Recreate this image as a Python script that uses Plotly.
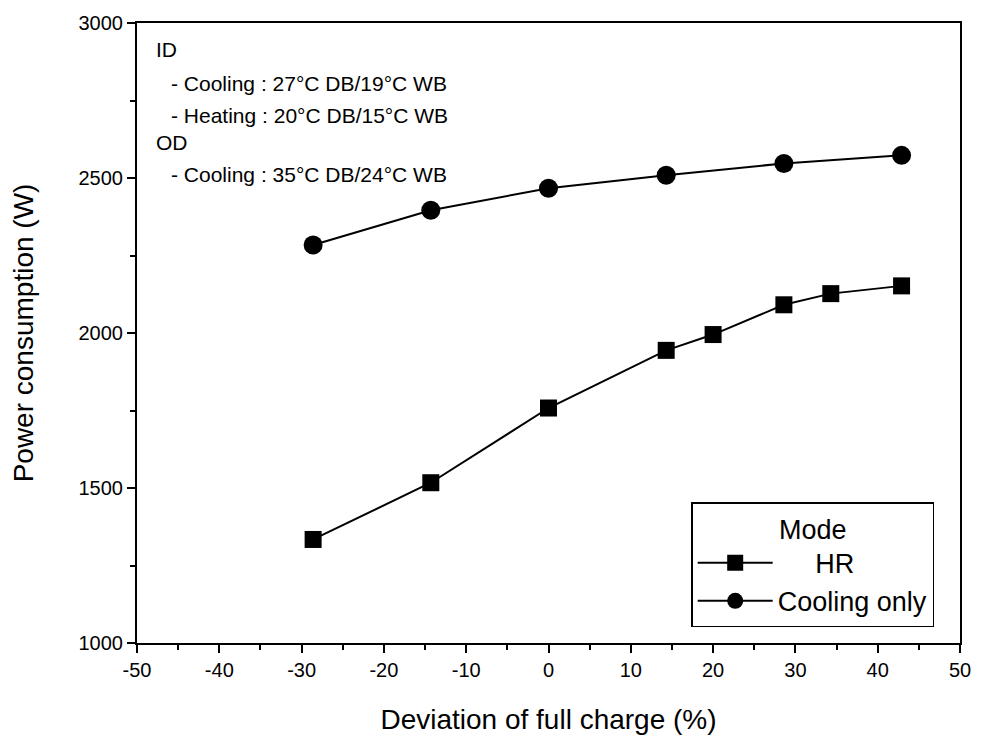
import plotly.graph_objects as go

# Data
hr_x = [-28.6, -14.3, 0.0, 14.3, 20.0, 28.6, 34.3, 42.9]
hr_y = [1334, 1517, 1758, 1944, 1995, 2091, 2127, 2152]
cool_x = [-28.6, -14.3, 0.0, 14.3, 28.6, 42.9]
cool_y = [2284, 2396, 2467, 2509, 2547, 2573]

x_ticks = [-50, -40, -30, -20, -10, 0, 10, 20, 30, 40, 50]
y_ticks = [1000, 1500, 2000, 2500, 3000]

note_lines = [
    "ID",
    "- Cooling : 27°C DB/19°C WB",
    "- Heating : 20°C DB/15°C WB",
    "OD",
    "- Cooling : 35°C DB/24°C WB",
]
note_y_px = [47, 81, 113, 140, 172]

FONT = "Liberation Sans, Arial, sans-serif"
L, R, T, B = 137, 17, 20, 105
W, H = 983, 748
PW, PH = W - L - R, H - T - B

fig = go.Figure()
fig.add_trace(go.Scatter(
    x=hr_x, y=hr_y, mode="lines+markers",
    name="\u00a0\u00a0\u00a0\u00a0\u00a0HR",
    line=dict(color="black", width=2),
    marker=dict(symbol="square", size=17, color="black"),
))
fig.add_trace(go.Scatter(
    x=cool_x, y=cool_y, mode="lines+markers",
    name="Cooling only",
    line=dict(color="black", width=2),
    marker=dict(symbol="circle", size=19, color="black"),
))

for t, ypx in zip(note_lines, note_y_px):
    xpx = 169 if t.startswith("-") else 154
    fig.add_annotation(
        x=(xpx - L) / PW, y=(H - B - ypx) / PH, xref="paper", yref="paper",
        text=t, showarrow=False, xanchor="left", yanchor="middle",
        font=dict(family=FONT, size=21, color="black"),
    )

fig.update_layout(
    width=W, height=H,
    margin=dict(l=L, r=R, t=T, b=B),
    paper_bgcolor="white", plot_bgcolor="white",
    font=dict(family=FONT, color="black"),
    showlegend=True,
    legend=dict(
        x=(940 - L) / PW, y=(H - B - 627) / PH, xanchor="right", yanchor="bottom",
        bordercolor="black", borderwidth=1.5, bgcolor="white",
        font=dict(family=FONT, size=27, color="black"),
        title=dict(text="Mode", side="top center",
                   font=dict(family=FONT, size=27, color="black")),
        itemwidth=75, tracegroupgap=0,
    ),
    xaxis=dict(
        range=[-50, 50], tickvals=x_ticks, ticktext=[str(v) for v in x_ticks],
        ticks="outside", ticklen=8, tickwidth=2, tickcolor="black",
        showline=True, linecolor="black", linewidth=2, mirror=True,
        showgrid=False, zeroline=False,
        minor=dict(dtick=5, ticks="outside", ticklen=5, tickwidth=2, tickcolor="black"),
        tickfont=dict(family=FONT, size=20, color="black"),
        title=dict(text="Deviation of full charge (%)", standoff=29,
                   font=dict(family=FONT, size=28, color="black")),
    ),
    yaxis=dict(
        range=[1000, 3000], tickvals=y_ticks, ticktext=[str(v) for v in y_ticks],
        ticks="outside", ticklen=8, tickwidth=2, tickcolor="black",
        showline=True, linecolor="black", linewidth=2, mirror=True,
        showgrid=False, zeroline=False,
        minor=dict(dtick=250, ticks="outside", ticklen=5, tickwidth=2, tickcolor="black"),
        tickfont=dict(family=FONT, size=20, color="black"),
        title=dict(text="Power consumption (W)", standoff=37,
                   font=dict(family=FONT, size=28, color="black")),
    ),
)

fig.write_html("out.html")
